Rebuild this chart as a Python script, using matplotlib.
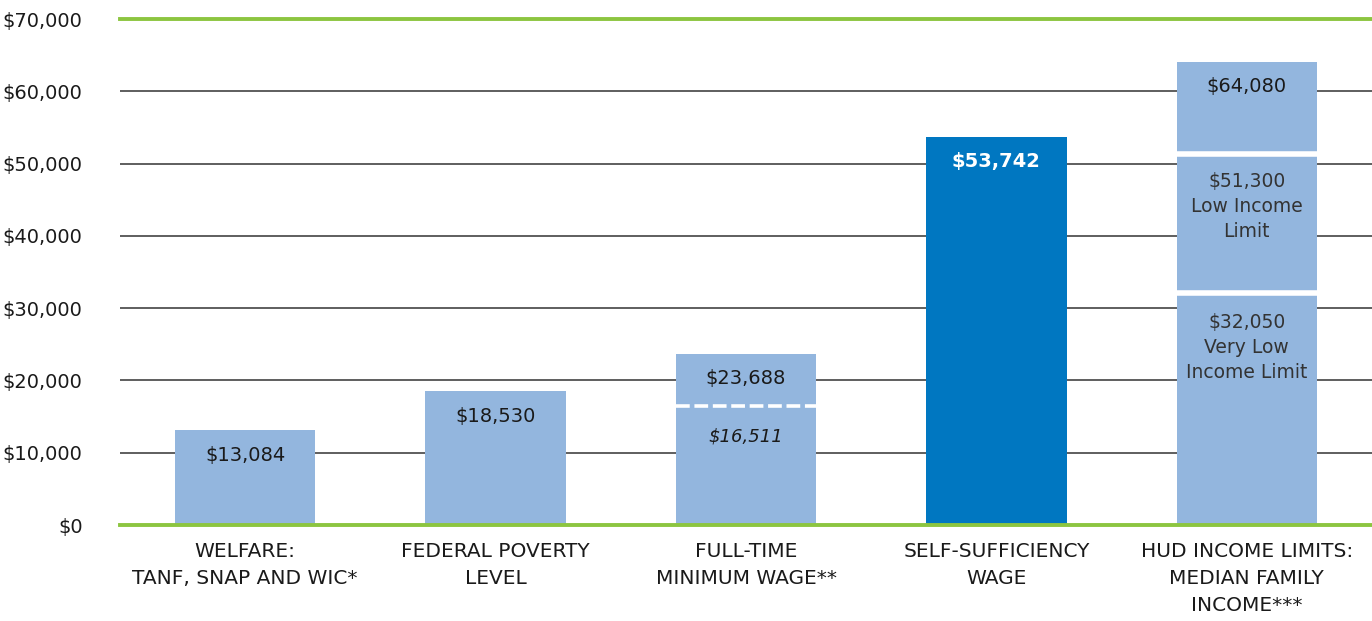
import matplotlib
matplotlib.use("Agg")
import matplotlib.pyplot as plt
from matplotlib.ticker import FuncFormatter

categories = ["WELFARE:\nTANF, SNAP AND WIC*", "FEDERAL POVERTY\nLEVEL",
              "FULL-TIME\nMINIMUM WAGE**", "SELF-SUFFICIENCY\nWAGE",
              "HUD INCOME LIMITS:\nMEDIAN FAMILY\nINCOME***"]
values = [13084, 18530, 23688, 53742, 64080]
min_wage_alt = 16511
hud_low = 51300
hud_very_low = 32050
yticks = [0, 10000, 20000, 30000, 40000, 50000, 60000, 70000]

light = "#93b6de"
dark = "#0077c1"
green = "#8cc540"
txt = "#1a1a1a"

plt.rcParams['font.family'] = ['DejaVu Sans']
fig = plt.figure(figsize=(13.72, 6.21), dpi=100)
ax = fig.add_axes([120/1372, 96/621, 1 - 120/1372, (525-19)/621])

x = list(range(len(categories)))
colors = [light, light, light, dark, light]
ax.bar(x, values, width=0.56, color=colors, zorder=3)

for t in yticks[1:-1]:
    ax.axhline(t, color="#333333", lw=1.1, zorder=1)
ax.axhline(0, color=green, lw=2.8, zorder=4, clip_on=False)
ax.axhline(70000, color=green, lw=2.8, zorder=4, clip_on=False)

# white separators
ax.hlines([min_wage_alt], 2 - 0.28, 2 + 0.28, colors="white", lw=2.6,
          linestyles=(0, (3.8, 1.3)), zorder=5)
ax.hlines([hud_low, hud_very_low], 4 - 0.28, 4 + 0.28, colors="white", lw=4, zorder=5)

for i, v in enumerate(values):
    col = "white" if i == 3 else txt
    weight = "bold" if i == 3 else "normal"
    ax.annotate(f"${v:,}", (i, v), xytext=(0, -18), textcoords="offset points",
                ha="center", va="center", fontsize=14, color=col, fontweight=weight, zorder=6)

ax.annotate(f"${min_wage_alt:,}", (2, min_wage_alt), xytext=(0, -22), textcoords="offset points",
            ha="center", va="center", fontsize=13, style="italic", color=txt, zorder=6)
ax.annotate(f"${hud_low:,}\nLow Income\nLimit", (4, hud_low), xytext=(0, -38), textcoords="offset points",
            ha="center", va="center", fontsize=13.5, color="#333333", linespacing=1.4, zorder=6)
ax.annotate(f"${hud_very_low:,}\nVery Low\nIncome Limit", (4, hud_very_low), xytext=(0, -39), textcoords="offset points",
            ha="center", va="center", fontsize=13.5, color="#333333", linespacing=1.4, zorder=6)

ax.set_xlim(-0.5, 4.5)
ax.set_ylim(0, 70000)
ax.set_yticks(yticks)
ax.yaxis.set_major_formatter(FuncFormatter(lambda v, p: f"${int(v):,}"))
ax.set_xticks(x)
ax.set_xticklabels(categories, fontsize=14.5, color=txt, linespacing=1.55, va="top")
ax.tick_params(axis="y", length=0, pad=27, labelsize=14, labelcolor=txt)
ax.tick_params(axis="x", length=0, pad=12)
for s in ax.spines.values():
    s.set_visible(False)

fig.savefig("out.png", dpi=100)
